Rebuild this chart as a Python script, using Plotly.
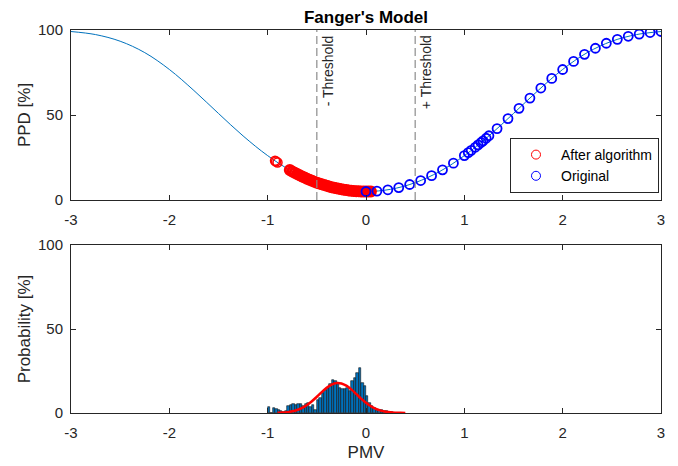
import plotly.graph_objects as go

# PPD curve (Fanger's model)
curve_pmv = [-3.0, -2.75, -2.5, -2.25, -2.0, -1.75, -1.5, -1.25, -1.0, -0.75, -0.5, -0.25,
             0.0, 0.25, 0.5, 0.75, 1.0, 1.25, 1.5, 1.75, 2.0, 2.25, 2.5, 2.75, 3.0]
curve_ppd = [99.1, 97.3, 93.4, 86.7, 76.8, 64.4, 50.9, 37.7, 26.1, 16.8, 10.2, 6.3,
             5.0, 6.3, 10.2, 16.8, 26.1, 37.7, 50.9, 64.4, 76.8, 86.7, 93.4, 97.3, 99.1]

# "After algorithm" points: isolated cluster and dense band
after_iso_pmv = [-0.925, -0.915, -0.90]
after_iso_ppd = [23.1, 22.7, 22.1]
after_pmv = [-0.775, -0.75, -0.725, -0.70, -0.675, -0.65, -0.625, -0.60,
             -0.575, -0.55, -0.525, -0.50, -0.475, -0.45, -0.425, -0.40, -0.375, -0.35,
             -0.325, -0.30, -0.275, -0.25, -0.225, -0.20, -0.175, -0.15, -0.125, -0.10,
             -0.075, -0.05, -0.025, 0.0, 0.025, 0.05]
after_ppd = [17.66, 16.8, 16.06, 15.31, 14.57, 13.87, 13.20, 12.55,
             11.93, 11.33, 10.77, 10.2, 9.71, 9.23, 8.77, 8.33, 7.93, 7.55,
             7.20, 6.87, 6.57, 6.3, 6.05, 5.83, 5.63, 5.47, 5.32, 5.21,
             5.12, 5.05, 5.01, 5.0, 5.01, 5.05]

# "Original" points
orig_pmv = [0.0, 0.111, 0.222, 0.333, 0.444, 0.556, 0.667, 0.778, 0.889, 1.0,
            1.04, 1.07, 1.111, 1.14, 1.17, 1.19, 1.222, 1.25, 1.333, 1.444,
            1.556, 1.667, 1.778, 1.889, 2.0, 2.111, 2.222, 2.333, 2.444, 2.556,
            2.667, 2.778, 2.889, 3.0]
orig_ppd = [5.0, 5.26, 6.02, 7.31, 9.12, 11.46, 14.34, 17.75, 21.68, 26.12,
            27.9, 29.2, 31.02, 32.4, 33.8, 34.8, 36.34, 37.8, 41.99, 47.89,
            53.92, 59.96, 65.87, 71.51, 76.76, 81.52, 85.70, 89.26, 92.20, 94.52,
            96.30, 97.60, 98.51, 99.12]

thresholds = [-0.5, 0.5]
threshold_labels = ["- Threshold", "+ Threshold"]

# Histogram of PMV after algorithm
hist_centers = [-0.9875, -0.9625, -0.9375, -0.9125, -0.8875, -0.8625, -0.8375, -0.8125,
                -0.7875, -0.7625, -0.7375, -0.7125, -0.6875, -0.6625, -0.6375, -0.6125,
                -0.5875, -0.5625, -0.5375, -0.5125, -0.4875, -0.4625, -0.4375, -0.4125,
                -0.3875, -0.3625, -0.3375, -0.3125, -0.2875, -0.2625, -0.2375, -0.2125,
                -0.1875, -0.1625, -0.1375, -0.1125, -0.0875, -0.0625, -0.0375, -0.0125,
                0.0125, 0.0375, 0.0625, 0.0875, 0.1125, 0.1375, 0.1625, 0.1875,
                0.2125, 0.2375, 0.2625]
hist_prob = [3.5, 0, 3, 2.5, 1.5, 1, 0.5, 1,
             4, 5, 5.5, 5, 5.5, 5.5, 4, 5.5,
             6, 3.5, 5, 2, 8, 9, 12, 13.5,
             15, 17, 19.5, 19, 17, 15, 14, 14,
             15, 13, 19, 21, 24, 26.5, 18, 16,
             10, 6, 4, 3, 2, 2, 1.5, 1,
             1, 0.5, 0.5]

# Fitted normal curve
fit_pmv = [-0.9, -0.85, -0.8, -0.75, -0.7, -0.65, -0.6, -0.55, -0.5, -0.45, -0.4, -0.35,
           -0.3, -0.25, -0.2, -0.15, -0.1, -0.05, 0.0, 0.05, 0.1, 0.15, 0.2, 0.25, 0.3,
           0.35, 0.4]
fit_prob = [0.12, 0.25, 0.52, 1.0, 1.8, 3.03, 4.77, 7.02, 9.67, 12.45, 15.01, 16.92,
            17.85, 17.61, 16.26, 14.04, 11.34, 8.57, 6.06, 4.01, 2.48, 1.44, 0.78, 0.39, 0.19,
            0.08, 0.03]

x_ticks = [-3, -2, -1, 0, 1, 2, 3]
x_ticktext = ["-3", "-2", "-1", "0", "1", "2", "3"]
y_ticks = [0, 50, 100]

FONT = "Liberation Sans, Arial, sans-serif"
AX = "#262626"
MBLUE = "#0072BD"

fig = go.Figure()

fig.add_trace(go.Scatter(x=curve_pmv, y=curve_ppd, mode="lines", line=dict(color=MBLUE, width=1, shape="spline"),
                         showlegend=False, hoverinfo="skip", xaxis="x", yaxis="y"))
fig.add_trace(go.Scatter(x=after_iso_pmv, y=after_iso_ppd, mode="markers", name="After algorithm", legendgroup="a",
                         showlegend=False,
                         marker=dict(symbol="circle-open", size=9, color="#FF0000", line=dict(width=1.5, color="#FF0000")),
                         xaxis="x", yaxis="y"))
fig.add_trace(go.Scatter(x=after_pmv, y=after_ppd, mode="markers", name="After algorithm", legendgroup="a",
                         showlegend=False,
                         marker=dict(symbol="circle-open", size=9, color="#FF0000", line=dict(width=3, color="#FF0000")),
                         xaxis="x", yaxis="y"))
# legend entries
fig.add_trace(go.Scatter(x=[None], y=[None], mode="markers", name="After algorithm", legendgroup="a",
                         marker=dict(symbol="circle-open", size=9, color="#FF0000", line=dict(width=1, color="#FF0000")),
                         xaxis="x", yaxis="y"))
fig.add_trace(go.Scatter(x=orig_pmv, y=orig_ppd, mode="markers", name="Original", showlegend=False, legendgroup="o",
                         marker=dict(symbol="circle-open", size=9, color="#0000FF", line=dict(width=1.8, color="#0000FF")),
                         xaxis="x", yaxis="y"))
fig.add_trace(go.Scatter(x=[None], y=[None], mode="markers", name="Original", legendgroup="o",
                         marker=dict(symbol="circle-open", size=9, color="#0000FF", line=dict(width=1, color="#0000FF")),
                         xaxis="x", yaxis="y"))

fig.add_trace(go.Bar(x=hist_centers, y=hist_prob, width=0.025, showlegend=False,
                     marker=dict(color=MBLUE, line=dict(color="#101010", width=0.6)),
                     xaxis="x2", yaxis="y2"))
fig.add_trace(go.Scatter(x=fit_pmv, y=fit_prob, mode="lines", line=dict(color="#FF0000", width=2.5, shape="spline"),
                         showlegend=False, xaxis="x2", yaxis="y2"))

for t, lab in zip(thresholds, threshold_labels):
    fig.add_shape(type="line", x0=t, x1=t, y0=0, y1=100, xref="x", yref="y",
                  line=dict(color="#8c8c8c", width=1.2, dash="8px,4px"))
    fig.add_annotation(x=t, y=100, xref="x", yref="y", text=lab, textangle=-90, showarrow=False,
                       xanchor="left", yanchor="top", xshift=1, yshift=-3,
                       font=dict(family=FONT, size=14, color=AX))

axis_common = dict(showline=True, linecolor=AX, linewidth=1, mirror="ticks", ticks="inside",
                   ticklen=5, tickcolor=AX, showgrid=False, zeroline=False, automargin=False,
                   tickfont=dict(family=FONT, size=15, color=AX))

fig.update_layout(
    width=678, height=466,
    margin=dict(l=71, r=17, t=30, b=53),
    paper_bgcolor="white", plot_bgcolor="white",
    bargap=0,
    title=dict(text="<b>Fanger's Model</b>", x=(366 / 678), xanchor="center", y=1 - 17 / 466, yanchor="middle",
               font=dict(family=FONT, size=17, color="#000000")),
    xaxis=dict(domain=[0, 1], anchor="y", range=[-3, 3], tickvals=x_ticks, ticktext=x_ticktext,
               ticklabelstandoff=6, **axis_common),
    yaxis=dict(domain=[0.5561, 1], anchor="x", range=[0, 100], tickvals=y_ticks, ticklabelstandoff=4,
               title=dict(text="PPD [%]", font=dict(family=FONT, size=17, color=AX), standoff=3), **axis_common),
    xaxis2=dict(domain=[0, 1], anchor="y2", range=[-3, 3], tickvals=x_ticks, ticktext=x_ticktext,
                ticklabelstandoff=6,
                title=dict(text="PMV", font=dict(family=FONT, size=17, color=AX), standoff=6), **axis_common),
    yaxis2=dict(domain=[0, 0.4386], anchor="x2", range=[0, 100], tickvals=y_ticks, ticklabelstandoff=4,
                title=dict(text="Probability [%]", font=dict(family=FONT, size=17, color=AX), standoff=3), **axis_common),
    legend=dict(x=0.9966, xanchor="right", y=0.5744, yanchor="bottom", bgcolor="white",
                bordercolor="#262626", borderwidth=1, font=dict(family=FONT, size=14, color="#000000"),
                tracegroupgap=0, itemwidth=40),
    showlegend=True,
)

fig.write_html("out.html", config={"displayModeBar": False},
               post_script="document.body.style.margin='0';document.body.style.padding='0';")
